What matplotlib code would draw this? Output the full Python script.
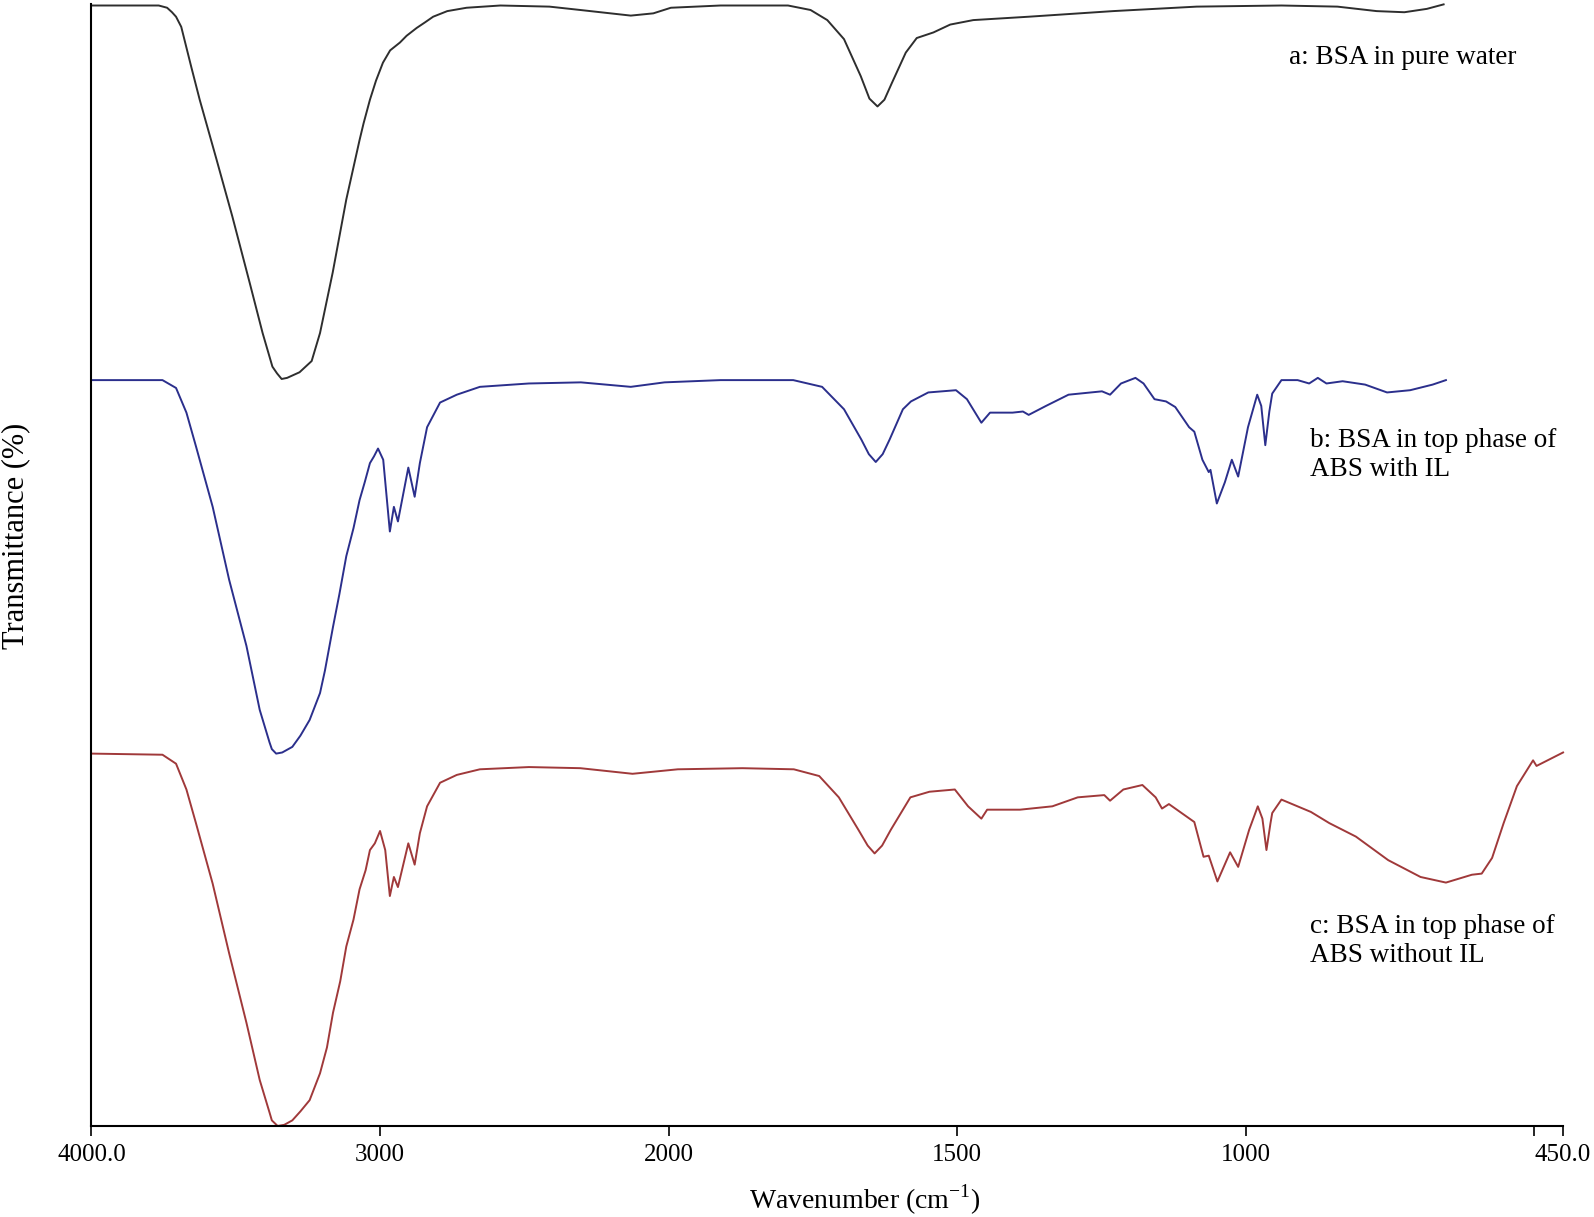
import numpy as np
import matplotlib
matplotlib.use("Agg")
from matplotlib import pyplot as plt

plt.rcParams['font.family'] = ['Liberation Serif', 'DejaVu Serif']
plt.rcParams['mathtext.fontset'] = 'custom'
plt.rcParams['mathtext.rm'] = 'Liberation Serif'

# a: BSA in pure water
wn_a = [4000, 3767, 3738, 3721, 3707, 3689, 3654, 3625, 3567, 3512, 3452, 3407, 3373, 3357, 3341, 3322,
        3279, 3237, 3208, 3164, 3117, 3071, 3057, 3035, 3014, 2990, 2965, 2931, 2908,
        2873, 2844, 2816, 2767, 2700, 2583, 2413, 2306, 2131, 2053, 1996, 1910, 1793, 1754, 1725, 1696,
        1667, 1652, 1638, 1626, 1613, 1589, 1570, 1541, 1512, 1472, 1376, 1230, 1085, 938, 841, 773,
        725, 686, 657]
t_a = [99.9, 99.9, 99.7, 99.3, 98.9, 98.0, 94.4, 91.5, 86.2, 81.1, 75.2, 70.7, 67.7, 67.1, 66.6, 66.7,
       67.2, 68.2, 70.7, 76.1, 82.6, 87.9, 89.4, 91.5, 93.2, 94.8, 95.9, 96.6, 97.2,
       97.9, 98.4, 98.9, 99.4, 99.7, 99.9, 99.8, 99.5, 99.0, 99.2, 99.7, 99.9, 99.9, 99.5, 98.6, 96.9,
       93.6, 91.6, 90.9, 91.5, 93.0, 95.7, 97.0, 97.5, 98.2, 98.6, 98.9, 99.4, 99.8, 99.9, 99.8, 99.4,
       99.3, 99.6, 100.0]

# b: BSA in top phase of ABS with IL
wn_b = [4000, 3754, 3707, 3671, 3638, 3580, 3523, 3463, 3417, 3383, 3375, 3360, 3339, 3304, 3276, 3244,
        3208, 3191, 3163, 3141, 3117, 3092, 3071, 3053, 3035, 3021, 3007, 2989, 2966, 2952, 2938, 2902,
        2880, 2862, 2837, 2792, 2734, 2654, 2484, 2304, 2131, 2014, 1910, 1784, 1734, 1696, 1666, 1653,
        1641, 1629, 1617, 1594, 1580, 1550, 1502, 1483, 1458, 1443, 1404, 1386, 1376, 1346, 1307, 1249,
        1235, 1216, 1191, 1177, 1158, 1138, 1122, 1098, 1089, 1075, 1064, 1061, 1050, 1036, 1024, 1013,
        996, 980, 973, 966, 959, 954, 938, 910, 890, 875, 860, 832, 793, 755, 715, 676, 653]
t_b = [66.5, 66.5, 65.8, 63.6, 60.6, 55.2, 48.7, 42.8, 37.1, 34.2, 33.6, 33.2, 33.3, 33.8, 34.8, 36.2,
       38.6, 40.6, 44.5, 47.4, 50.8, 53.3, 55.8, 57.4, 59.1, 59.7, 60.4, 59.4, 53.0, 55.2, 53.9, 58.7,
       56.1, 59.1, 62.3, 64.5, 65.2, 65.9, 66.2, 66.3, 65.9, 66.3, 66.5, 66.5, 65.9, 63.9, 61.2, 59.9,
       59.2, 59.9, 61.2, 63.9, 64.6, 65.4, 65.6, 64.8, 62.7, 63.6, 63.6, 63.7, 63.4, 64.2, 65.2, 65.5,
       65.2, 66.2, 66.7, 66.2, 64.8, 64.6, 64.1, 62.3, 61.9, 59.4, 58.3, 58.5, 55.5, 57.4, 59.4, 57.9,
       62.3, 65.2, 64.2, 60.7, 63.7, 65.3, 66.5, 66.5, 66.2, 66.7, 66.2, 66.4, 66.1, 65.4, 65.6, 66.1, 66.5]

# c: BSA in top phase of ABS without IL
wn_c = [4000, 3754, 3707, 3671, 3638, 3580, 3523, 3463, 3417, 3383, 3375, 3355, 3332, 3304, 3276, 3244,
        3208, 3184, 3163, 3138, 3117, 3092, 3071, 3050, 3035, 3018, 3000, 2982, 2966, 2952, 2938, 2902,
        2880, 2862, 2837, 2792, 2734, 2654, 2484, 2306, 2125, 1984, 1872, 1783, 1739, 1705, 1671, 1655,
        1643, 1630, 1615, 1581, 1548, 1504, 1481, 1458, 1448, 1391, 1335, 1291, 1245, 1235, 1212, 1179,
        1156, 1145, 1133, 1100, 1089, 1073, 1064, 1049, 1027, 1013, 994, 979, 971, 964, 957, 954,
        938, 887, 855, 809, 753, 697, 653, 608, 591, 573, 553, 530, 502, 496, 450]
t_c = [33.2, 33.1, 32.3, 30.0, 27.0, 21.6, 15.4, 9.2, 4.1, 1.2, 0.5, 0.0, 0.1, 0.5, 1.3, 2.3,
       4.7, 7.0, 10.1, 12.9, 16.0, 18.4, 21.1, 22.8, 24.6, 25.2, 26.3, 24.6, 20.5, 22.2, 21.3, 25.2,
       23.3, 26.1, 28.5, 30.6, 31.3, 31.8, 32.0, 31.9, 31.4, 31.8, 31.9, 31.8, 31.2, 29.3, 26.4, 25.0,
       24.3, 25.0, 26.4, 29.3, 29.8, 30.0, 28.5, 27.4, 28.2, 28.2, 28.5, 29.3, 29.5, 29.0, 30.0, 30.4,
       29.3, 28.3, 28.7, 27.5, 27.1, 24.0, 24.1, 21.8, 24.4, 23.1, 26.4, 28.5, 27.4, 24.6, 27.0, 27.9,
       29.1, 28.0, 27.0, 25.8, 23.7, 22.2, 21.7, 22.4, 22.5, 23.9, 27.0, 30.3, 32.6, 32.1, 33.3]

xticks = [4000, 3000, 2000, 1500, 1000, 500, 450]
xticklabels = ['4000.0', '3000', '2000', '1500', '1000', '', '450.0']


# scale changes at 2000 cm-1 (below it, twice as many px per cm-1)
def fwd(x):
    x = np.asarray(x, dtype=float)
    return np.where(x >= 2000, x, 2 * x - 2000)


def inv(u):
    u = np.asarray(u, dtype=float)
    return np.where(u >= 2000, u, (u + 2000) / 2)


fig = plt.figure(figsize=(15.94, 12.17), dpi=100)
ax = fig.add_axes([0.0574, 0.0748, 0.9232, 0.9216])
ax.set_xscale('function', functions=(fwd, inv))

ax.plot(wn_a, t_a, color='#2e2e2e', lw=1.4, clip_on=False)
ax.plot(wn_b, t_b, color='#2b2f8c', lw=1.4, clip_on=False)
ax.plot(wn_c, t_c, color='#a0393a', lw=1.4, clip_on=False)

ax.set_xlim(4000, 450)
ax.set_ylim(0, 100)
ax.set_xticks(xticks)
ax.set_xticklabels(xticklabels)
ax.minorticks_off()
ax.set_yticks([])
ax.tick_params(axis='x', direction='out', length=7, width=1.2, pad=6, labelsize=18)

for s in ['top', 'right']:
    ax.spines[s].set_visible(False)
for s in ['left', 'bottom']:
    ax.spines[s].set_linewidth(1.5)

ax.text(925, 95.25, 'a: BSA in pure water', fontsize=19.5, va='center', ha='left')
ax.text(889, 59.8, 'b: BSA in top phase of\nABS with IL', fontsize=19.5, va='center', ha='left',
        linespacing=1.2)
ax.text(889, 16.5, 'c: BSA in top phase of\nABS without IL', fontsize=19.5, va='center', ha='left',
        linespacing=1.2)

fig.text(865 / 1594, 1 - 1200 / 1217, r'Wavenumber (cm$^{\mathrm{-1}}$)', fontsize=20,
         ha='center', va='center')
fig.text(16 / 1594, 1 - 536 / 1217, 'Transmittance (%)', fontsize=22, rotation=90,
         ha='center', va='center')

fig.savefig('out.png', dpi=100)
